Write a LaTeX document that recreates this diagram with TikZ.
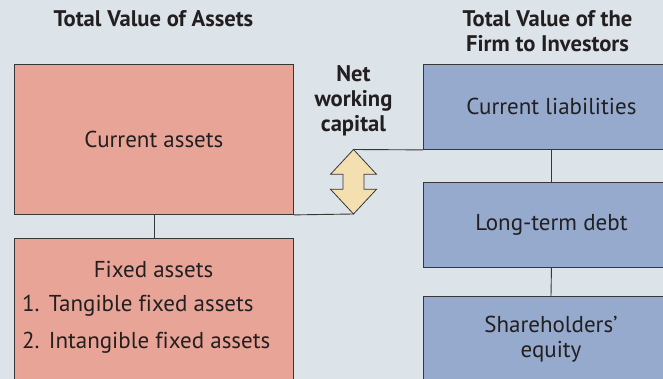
\documentclass[tikz,border=0pt]{standalone}
\usepackage{fontspec}
\setmainfont{PT Sans}[Ligatures={TeX,NoCommon}]
\begin{document}
\begin{tikzpicture}[x=1pt,y=-1pt,
  box/.style={draw=linegray,line width=0.9pt,inner sep=0pt,anchor=north west},
  asset/.style={box,fill=assetpink},
  claim/.style={box,fill=claimblue},
  body/.style={font=\fontsize{23}{25.5}\selectfont,text=ink,inner sep=0pt,align=center},
  heading/.style={font=\fontsize{22.6}{25}\selectfont\bfseries,text=ink,inner sep=0pt,align=center},
  link/.style={draw=linegray,line width=0.9pt}]
\definecolor{bg}{RGB}{220,227,233}
\definecolor{assetpink}{RGB}{232,165,151}
\definecolor{claimblue}{RGB}{149,170,205}
\definecolor{arrowfill}{RGB}{243,223,176}
\definecolor{linegray}{RGB}{55,55,55}
\definecolor{ink}{RGB}{35,31,32}
\useasboundingbox (0,0) rectangle (663,379);
\clip (0,0) rectangle (663,379);
\fill[bg] (0,0) rectangle (663,379);

% column headings
\node[heading] (hAssets) at (153.5,19) {Total Value of Assets};
\node[heading] (hFirm) at (547.5,31.5) {Total Value of the\\Firm to Investors};

% asset side
\node[asset,minimum width=279pt,minimum height=150pt] (ca) at (14,64) {};
\node[body] (caText) at (ca.center) {Current assets};
\node[asset,minimum width=279pt,minimum height=160pt] (fa) at (14,238) {};
\node[body] (faTitle) at (153.5,269) {Fixed assets};
\node[body,anchor=west] (faOne) at (22,306) {1.\hspace{0.4em}Tangible fixed assets};
\node[body,anchor=west] (faTwo) at (22,342.5) {2.\hspace{0.4em}Intangible fixed assets};

% claims side
\node[claim,minimum width=256pt,minimum height=85pt] (cl) at (423,64) {};
\node[body] (clText) at (cl.center) {Current liabilities};
\node[claim,minimum width=256pt,minimum height=85pt] (ltd) at (423,182) {};
\node[body] (ltdText) at (ltd.center) {Long-term debt};
\node[claim,minimum width=256pt,minimum height=85pt] (se) at (423,296) {};
\node[body] (seText) at (551,339) {Shareholders\char"0027\\equity};

% net working capital
\node[heading] (nwc) at (353.5,101) {Net\\working\\capital};
\coordinate (nwcTop) at (353.5,149.5);
\coordinate (nwcBot) at (353.5,214);
\filldraw[fill=arrowfill,draw=linegray,line width=0.8pt,line join=miter]
  (nwcTop) -- (376.5,174.3) -- (364,174.3) -- (364,189.3) -- (376.5,189.3)
  -- (nwcBot) -- (330.5,189.3) -- (343,189.3) -- (343,174.3) -- (330.5,174.3) -- cycle;

% connectors
\draw[link] (ca.south) -- (fa.north);
\draw[link] (ca.south east) -- (nwcBot);
\draw[link] (nwcTop) -- (cl.south west);
\draw[link] (cl.south -| clText) -- (ltd.north -| ltdText);
\draw[link] (ltd.south -| ltdText) -- (se.north -| seText);
\end{tikzpicture}
\end{document}
